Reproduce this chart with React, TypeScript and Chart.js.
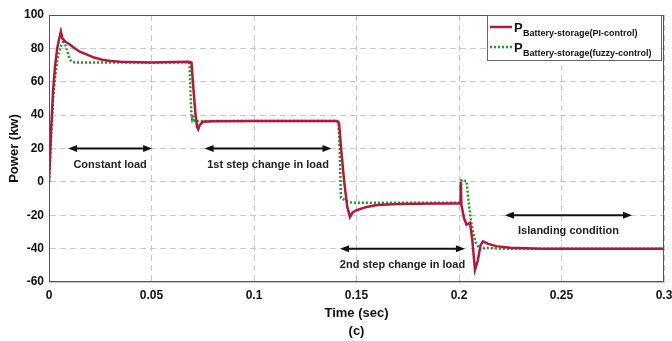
import React, { useEffect, useRef } from "react";
import { Chart, registerables } from "chart.js";

Chart.register(...registerables);

// PI-control series (time s, power kW)
const T_PI = [0, 0.001, 0.002, 0.003, 0.004, 0.005, 0.0058, 0.0065, 0.008, 0.01, 0.012, 0.015, 0.018, 0.022, 0.026, 0.03, 0.035, 0.04, 0.05, 0.06, 0.068, 0.0695, 0.0705, 0.0715, 0.0722, 0.0728, 0.0735, 0.075, 0.08, 0.1, 0.12, 0.1405, 0.1415, 0.1425, 0.144, 0.1455, 0.1468, 0.148, 0.15, 0.155, 0.16, 0.17, 0.19, 0.2, 0.2005, 0.2008, 0.2012, 0.2025, 0.2037, 0.2054, 0.2065, 0.2078, 0.2092, 0.2105, 0.2117, 0.214, 0.218, 0.225, 0.24, 0.3];
const P_PI = [0, 30, 55, 70, 80, 86, 90, 86, 84, 82.5, 80.5, 78, 76.5, 74.5, 73.2, 72.5, 72, 71.8, 71.6, 71.8, 72, 71.5, 55, 40, 33, 31.5, 34, 36, 36.4, 36.5, 36.5, 36.5, 35, 20, 0, -15, -21, -18.5, -17, -15, -13.8, -13.2, -13, -13, -13, 0, -14, -22, -25.7, -24.5, -35, -52.7, -47, -38, -35.7, -37, -38.5, -39.5, -40, -40];

// Fuzzy-control series
const T_FZ = [0, 0.001, 0.002, 0.003, 0.004, 0.005, 0.006, 0.0073, 0.008, 0.009, 0.01, 0.011, 0.013, 0.02, 0.04, 0.06, 0.068, 0.0685, 0.069, 0.0695, 0.0698, 0.0702, 0.071, 0.08, 0.14, 0.1412, 0.1418, 0.1422, 0.1424, 0.143, 0.146, 0.148, 0.16, 0.2, 0.2008, 0.2012, 0.2037, 0.2045, 0.206, 0.208, 0.2102, 0.213, 0.22, 0.3];
const P_FZ = [0, 28, 50, 63, 72, 78, 82, 85, 82, 78, 74, 72, 71.5, 71.5, 71.5, 71.5, 71.8, 71, 55, 40, 38, 40, 36.5, 36.5, 36.5, 36, 20, 0, -9.5, -10, -12, -12.5, -12.5, -12.5, -12.5, 1, 0.5, -10, -25, -36, -40.5, -39.5, -40, -40];

// Annotations (double-headed arrows)
const ANN_LABELS = ["Constant load", "1st step change in load", "2nd step change in load", "Islanding condition"];
const ANN_X0 = [0.0093, 0.0759, 0.1420, 0.2224];
const ANN_X1 = [0.0503, 0.1378, 0.2029, 0.2844];
const ANN_Y = [20, 20, -40, -20];

const LEGEND_SUB = ["Battery-storage(PI-control)", "Battery-storage(fuzzy-control)"];

const RED = "#b3173f";
const GREEN = "#1e9a1e";
const FONT = "'Liberation Sans', Arial, sans-serif";

const toPts = (t: number[], v: number[]) => t.map((x, i) => ({ x, y: v[i] }));

const decorPlugin = {
  id: "decor",
  afterDatasetsDraw(chart: any) {
    const { ctx, chartArea: a, scales } = chart;
    const xs = scales.x, ys = scales.y;
    ctx.save();
    // frame
    ctx.strokeStyle = "#555";
    ctx.lineWidth = 1;
    ctx.setLineDash([]);
    ctx.strokeRect(a.left + 0.5, a.top + 0.5, a.right - a.left - 1, a.bottom - a.top - 1);

    // annotations
    ctx.fillStyle = "#111";
    ctx.strokeStyle = "#111";
    ctx.lineWidth = 2;
    ANN_LABELS.forEach((lab, i) => {
      const x0 = xs.getPixelForValue(ANN_X0[i]);
      const x1 = xs.getPixelForValue(ANN_X1[i]);
      const y = ys.getPixelForValue(ANN_Y[i]);
      ctx.beginPath();
      ctx.moveTo(x0 + 6, y);
      ctx.lineTo(x1 - 6, y);
      ctx.stroke();
      ctx.beginPath();
      ctx.moveTo(x0, y);
      ctx.lineTo(x0 + 9, y - 3.5);
      ctx.lineTo(x0 + 9, y + 3.5);
      ctx.closePath();
      ctx.fill();
      ctx.beginPath();
      ctx.moveTo(x1, y);
      ctx.lineTo(x1 - 9, y - 3.5);
      ctx.lineTo(x1 - 9, y + 3.5);
      ctx.closePath();
      ctx.fill();
      ctx.font = `bold 11px ${FONT}`;
      ctx.fillStyle = "#222";
      ctx.textAlign = "center";
      ctx.textBaseline = "middle";
      ctx.fillText(lab, (x0 + x1) / 2, y + 16);
      ctx.fillStyle = "#111";
    });

    // legend
    const lx = 487, ly = 15, lw = 174, lh = 45;
    ctx.fillStyle = "#fff";
    ctx.fillRect(lx, ly, lw, lh);
    ctx.strokeStyle = "#666";
    ctx.lineWidth = 1;
    ctx.strokeRect(lx + 0.5, ly + 0.5, lw, lh);
    const rows = [
      { y: 27, color: RED, dash: [] as number[] },
      { y: 47, color: GREEN, dash: [2, 2] },
    ];
    rows.forEach((r, i) => {
      ctx.strokeStyle = r.color;
      ctx.lineWidth = 2.5;
      ctx.setLineDash(r.dash);
      ctx.beginPath();
      ctx.moveTo(490, r.y);
      ctx.lineTo(512, r.y);
      ctx.stroke();
      ctx.setLineDash([]);
      ctx.fillStyle = "#111";
      ctx.textAlign = "left";
      ctx.textBaseline = "alphabetic";
      ctx.font = `bold 13px ${FONT}`;
      ctx.fillText("P", 514, r.y + 5);
      ctx.font = `bold 9px ${FONT}`;
      ctx.fillText(LEGEND_SUB[i], 523, r.y + 9);
    });
    ctx.restore();
  },
};

export default function App() {
  const ref = useRef<HTMLCanvasElement | null>(null);
  useEffect(() => {
    document.body.style.margin = "0";
    document.body.style.overflow = "hidden";
    const c = new Chart(ref.current!, {
      type: "line",
      data: {
        datasets: [
          {
            label: "PI",
            data: toPts(T_PI, P_PI),
            borderColor: RED,
            borderWidth: 2.5,
            pointRadius: 0,
            tension: 0,
          },
          {
            label: "Fuzzy",
            data: toPts(T_FZ, P_FZ),
            borderColor: GREEN,
            borderWidth: 2.5,
            borderDash: [2, 2],
            pointRadius: 0,
            tension: 0,
          },
        ],
      },
      options: {
        animation: false,
        responsive: false,
        maintainAspectRatio: false,
        parsing: false as any,
        layout: { padding: { top: 15, right: 8, left: 0, bottom: 0 } },
        plugins: { legend: { display: false }, tooltip: { enabled: false } },
        scales: {
          x: {
            type: "linear",
            min: 0,
            max: 0.3,
            ticks: {
              stepSize: 0.05,
              color: "#111",
              font: { family: FONT, weight: "bold", size: 12 },
              padding: 6,
              maxRotation: 0,
              callback: (v: any) => String(Math.round(Number(v) * 100) / 100),
            },
            grid: { color: "#c8c8c8", drawTicks: false },
            border: { display: true, color: "#c8c8c8", dash: [6, 4] },
            title: {
              display: true,
              text: ["Time (sec)", "(c)"],
              color: "#111",
              font: { family: FONT, weight: "bold", size: 13, lineHeight: 1.4 },
              padding: { top: 2, bottom: 0 },
            },
            afterFit: (s: any) => {
              s.height = 59;
              s.paddingLeft = 0;
              s.paddingRight = 0;
            },
          } as any,
          y: {
            type: "linear",
            min: -60,
            max: 100,
            ticks: {
              stepSize: 20,
              color: "#111",
              font: { family: FONT, weight: "bold", size: 12 },
              padding: 5,
            },
            grid: { color: "#c8c8c8", drawTicks: false },
            border: { display: true, color: "#c8c8c8", dash: [6, 4] },
            title: {
              display: true,
              text: "Power (kw)",
              color: "#111",
              font: { family: FONT, weight: "bold", size: 13 },
              padding: { top: 7, bottom: 0 },
            },
            afterFit: (s: any) => {
              s.width = 49;
              s.paddingTop = 0;
              s.paddingBottom = 0;
            },
          } as any,
        },
      },
      plugins: [decorPlugin],
    });
    return () => c.destroy();
  }, []);
  return (
    <div style={{ position: "fixed", left: 0, top: 0, width: 672, height: 341, background: "#fff" }}>
      <canvas ref={ref} width={672} height={341} style={{ width: 672, height: 341 }} />
    </div>
  );
}
